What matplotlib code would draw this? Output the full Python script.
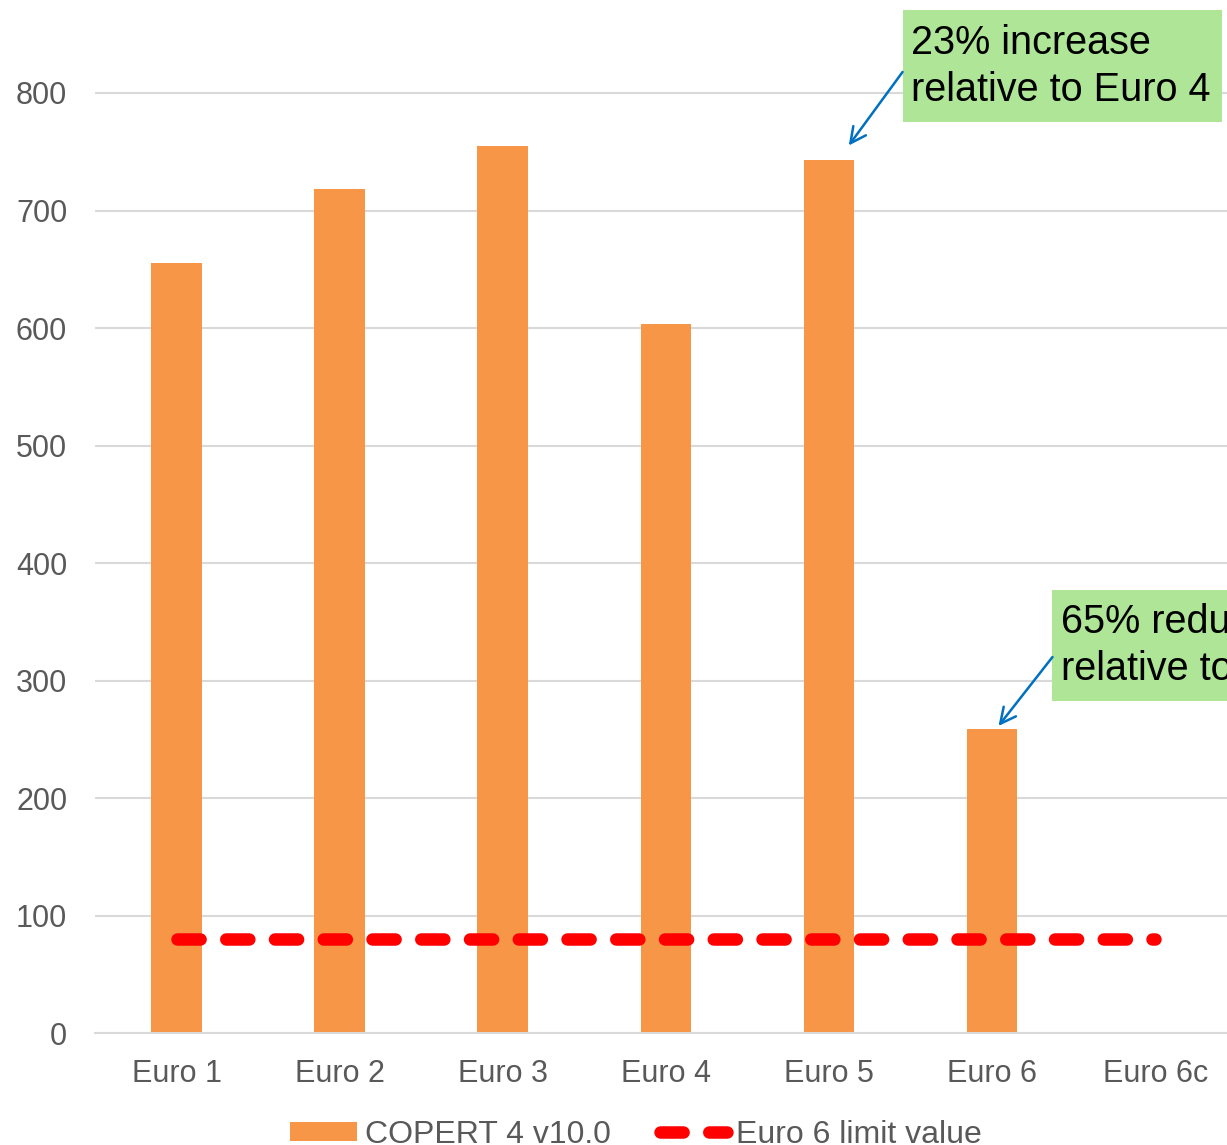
import matplotlib.pyplot as plt
import matplotlib.patches as patches
import numpy as np

plt.rcParams['font.family'] = ['Liberation Sans', 'DejaVu Sans']

# NOx emission factors per Euro class (mg/km)
clases = ['Euro 1', 'Euro 2', 'Euro 3', 'Euro 4', 'Euro 5', 'Euro 6', 'Euro 6c']
copert = [655, 718, 755, 603, 743, 259, np.nan]
limite_euro6 = [80] * len(clases)

gris = '#595959'
naranja = '#F79646'

fig = plt.figure(figsize=(12.27, 11.45), dpi=100)
# el área del gráfico sobresale un poco por arriba y a la derecha
ax = fig.add_axes([0.0774, 0.0978, 0.9306, 0.9236])

x = np.arange(len(clases))
barras = ax.bar(x, copert, width=0.31, color=naranja, label='COPERT 4 v10.0', zorder=2)
linea, = ax.plot(x, limite_euro6, color='#FF0000', linewidth=9,
                 linestyle=(0, (1.85, 2.05)), dash_capstyle='round',
                 label='Euro 6 limit value', zorder=3)

ax.set_xlim(-0.5, 6.5)
ax.set_ylim(0, 900)
ax.set_yticks(range(0, 900, 100))
ax.set_xticks(x)
ax.set_xticklabels(clases)
ax.tick_params(axis='both', length=0, labelsize=22, labelcolor=gris)
ax.tick_params(axis='x', pad=19)
ax.tick_params(axis='y', pad=20)
ax.grid(axis='y', color='#D9D9D9', linewidth=1.5, zorder=0)
ax.set_axisbelow(True)
for lado in ['top', 'right', 'left']:
    ax.spines[lado].set_visible(False)
ax.spines['bottom'].set_color('#D9D9D9')
ax.spines['bottom'].set_linewidth(1.5)

# Cuadros de texto con flecha
def cuadro(x0, x1, y0, y1, texto, desde, hasta):
    rect = patches.Rectangle((x0, y0), x1 - x0, y1 - y0, facecolor='#AEE596',
                             edgecolor='none', clip_on=False, zorder=4)
    ax.add_patch(rect)
    ax.text(x0 + 0.05, (y0 + y1) / 2, texto, fontsize=28.5, color='black',
            ha='left', va='center', linespacing=1.3, clip_on=False, zorder=5)
    ax.annotate('', xy=hasta, xytext=desde,
                arrowprops=dict(arrowstyle='->', color='#0070C0', lw=1.8,
                                mutation_scale=28, shrinkA=0, shrinkB=0),
                annotation_clip=False, zorder=5)

cuadro(4.451, 6.41, 775.3, 870.6, '23% increase\nrelative to Euro 4',
       (4.451, 817.9), (4.121, 755.3))
cuadro(5.370, 6.6, 282.6, 377.0, '65% reduction\nrelative to Euro 5',
       (5.370, 320.0), (5.039, 261.3))

fig.legend(handles=[barras, linea], loc='center', bbox_to_anchor=(0.518, 0.009),
           ncol=2, frameon=False, fontsize=23, labelcolor=gris, handlelength=2.1,
           handletextpad=0.26, columnspacing=1.55, handleheight=0.55)

fig.savefig('out.png', dpi=100)
